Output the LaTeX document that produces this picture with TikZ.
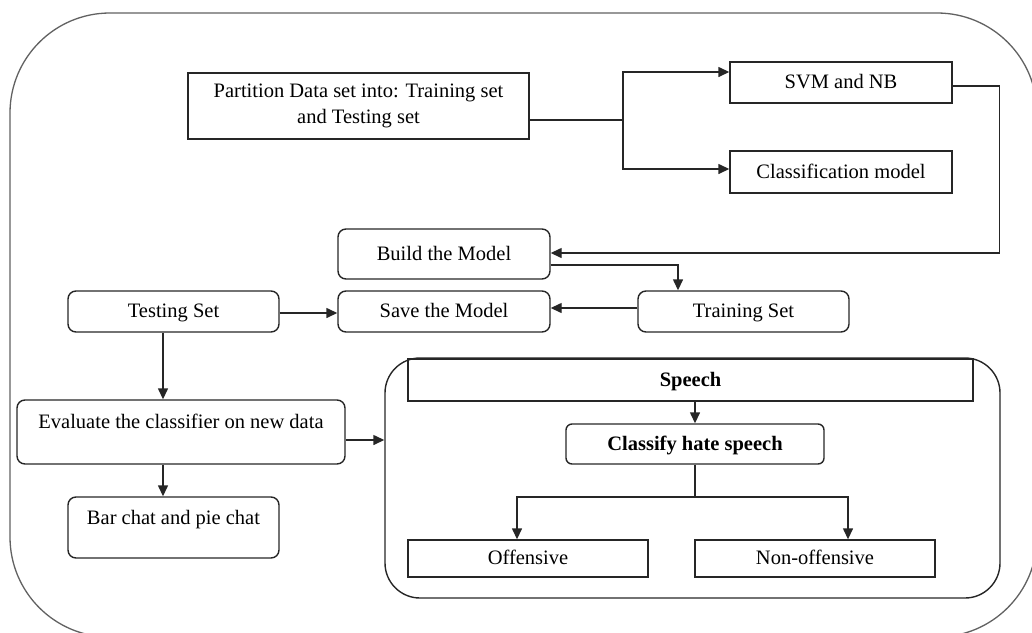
\documentclass[tikz,border=0pt]{standalone}
\usepackage{fontspec}
\setmainfont{Liberation Serif}
\usetikzlibrary{arrows.meta}
\tikzset{
  txt/.style={font=\fontsize{20.5}{26}\selectfont, inner sep=0pt, text=black},
  boxline/.style={txt, draw=black!85, line width=1.4pt},
  tb/.style={text height=14pt, text depth=2pt},
  sqbox/.style={boxline, rectangle, tb},
  rbox/.style={boxline, rectangle, rounded corners=8pt, tb},
  bold/.style={font=\fontsize{20.5}{26}\selectfont\bfseries},
  conn/.style={draw=black!85, line width=1.4pt},
  arrow/.style={conn, -{Triangle[length=11pt,width=10pt]}},
  frame/.style={draw=black!62, line width=1.3pt, rounded corners=100pt},
}
\begin{document}
\begin{tikzpicture}[x=1pt,y=-1pt]
\useasboundingbox (0,0) rectangle (1032,632);
\begin{scope}
\clip (0,0) rectangle (1032,632);
\draw[frame] (10,13) rectangle (1037,637);
\end{scope}

% nodes
\node[boxline, rectangle, minimum width=341pt, minimum height=66pt, align=center] (part) at (358.5,106) {Partition Data set into: Training set\\and Testing set};
\node[sqbox, minimum width=222pt, minimum height=41pt] (svm) at (841,82.5) {SVM and NB};
\node[sqbox, minimum width=222pt, minimum height=42pt] (cls) at (841,172) {Classification model};
\node[rbox, minimum width=212pt, minimum height=50pt] (build) at (444,254) {Build the Model};
\node[rbox, minimum width=212pt, minimum height=41pt] (save) at (444,311.5) {Save the Model};
\node[rbox, minimum width=211pt, minimum height=41pt] (train) at (743.5,311.5) {Training Set};
\node[rbox, minimum width=211pt, minimum height=41pt] (test) at (173.5,311.5) {Testing Set};
\node[rbox, minimum width=328pt, minimum height=64pt, text height=14pt, text depth=22pt] (eval) at (181,432) {Evaluate the classifier on new data};
\node[rbox, minimum width=211pt, minimum height=61pt, text height=14pt, text depth=21pt] (bar) at (173.5,527.5) {Bar chat and pie chat};
\node[boxline, rectangle, rounded corners=35pt, minimum width=615pt, minimum height=240pt] (group) at (692.5,478) {};
\node[sqbox, bold, minimum width=565pt, minimum height=42pt] (speech) at (690.5,380) {Speech};
\node[rbox, bold, rounded corners=6pt, minimum width=258pt, minimum height=40pt] (classify) at (695,444) {Classify hate speech};
\node[sqbox, minimum width=240pt, minimum height=37pt] (off) at (528,558.5) {Offensive};
\node[sqbox, minimum width=240pt, minimum height=37pt] (non) at (815,558.5) {Non-offensive};

% connectors
\coordinate (split1) at (623,120);
\draw[conn] ([yshift=-14pt]part.east) -- (split1);
\draw[arrow] (split1) |- ([yshift=10.5pt]svm.west);
\draw[arrow] (split1) |- ([yshift=3pt]cls.west);
\draw[arrow] ([yshift=-3.5pt]svm.east) -- ++(47,0) |- ([yshift=1pt]build.east);
\draw[arrow] ([yshift=-11pt]build.east) -| ([xshift=-65.5pt]train.north);
\draw[arrow] ([yshift=3.5pt]train.west) -- ([yshift=3.5pt]save.east);
\draw[arrow] ([yshift=-1.5pt]test.east) -- ([yshift=-1.5pt]save.west);
\draw[arrow] ([xshift=-10.5pt]test.south) -- ([xshift=-10.5pt]test.south |- eval.north);
\draw[arrow] ([xshift=-10.5pt]bar.north |- eval.south) -- ([xshift=-10.5pt]bar.north);
\draw[arrow] ([yshift=-8pt]eval.east) -- ([yshift=-8pt]eval.east -| group.west);
\draw[arrow] (classify.north |- speech.south) -- (classify.north);
\coordinate (split2) at (695,497);
\draw[conn] (classify.south) -- (split2);
\draw[arrow] (split2) -| ([xshift=-11pt]off.north);
\draw[arrow] (split2) -| ([xshift=33pt]non.north);
\end{tikzpicture}
\end{document}
